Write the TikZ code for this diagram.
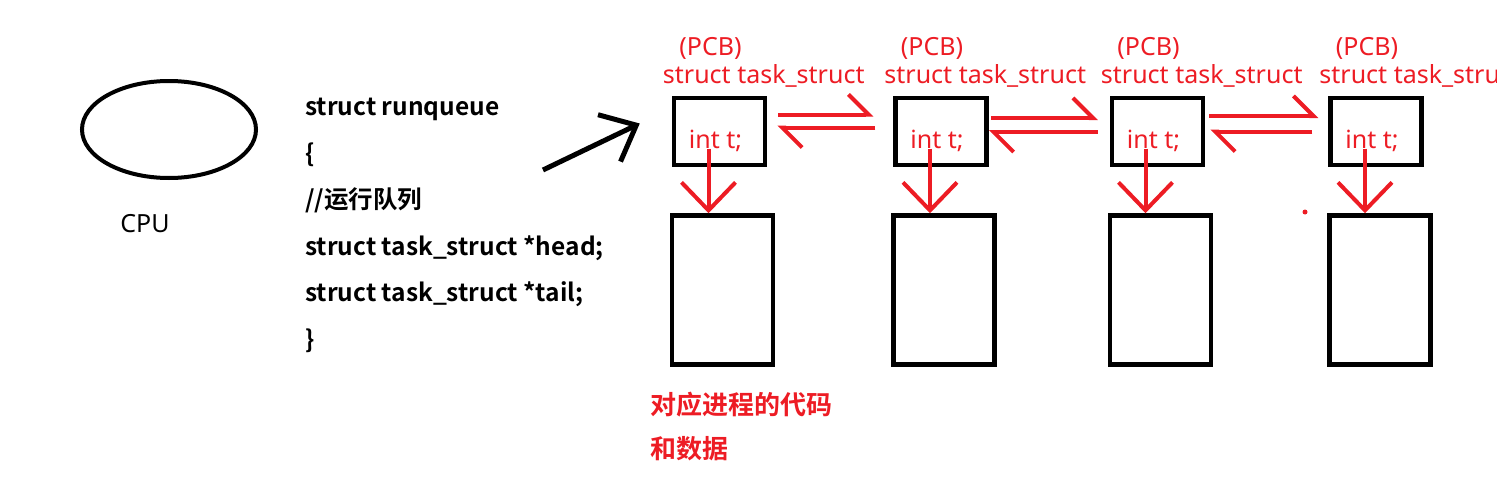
\documentclass[tikz,border=0pt]{standalone}
\usepackage{fontspec}
\setmainfont{Noto Sans}
\newfontfamily\cjk{Noto Sans CJK SC}[BoldFont={* Bold}]
\usetikzlibrary{arrows.meta, positioning, shapes.geometric}
\definecolor{paintred}{RGB}{237,28,36}

\begin{document}
\begin{tikzpicture}[x=1pt, y=-1pt,
  pcbbox/.style={rectangle, draw=black, line width=4.5pt, inner sep=0pt,
                 minimum width=91pt, minimum height=67pt},
  membox/.style={rectangle, draw=black, line width=4.5pt, inner sep=0pt,
                 minimum width=101pt, minimum height=149pt},
  redtext/.style={text=paintred, inner sep=0pt, font=\fontsize{25}{30}\selectfont},
  redarr/.style={draw=paintred, line width=4pt, -{Straight Barb[length=28pt, width=54pt]}},
  harp/.style={draw=paintred, line width=4pt, -{Straight Barb[left, length=20pt, width=40pt]}},
  node distance=46pt
]
\useasboundingbox (0,0) rectangle (1497,498);
\clip (0,0) rectangle (1497,498);

% cpu and run queue
\node[ellipse, draw=black, line width=4pt, minimum width=174pt, minimum height=97pt] (cpu) at (169,129.5) {};
\node[anchor=base, inner sep=0pt, font=\fontsize{25}{30}\selectfont] (cpulbl) at ([shift={(-24,52)}]cpu.south) {CPU};
\node[anchor=north west, align=left, inner sep=0pt, font=\fontsize{24.5}{46.5}\selectfont\cjk\bfseries] (rq) at (305,98)
  {struct runqueue\\ \{\\ //运行队列\\ struct task\_struct *head;\\ struct task\_struct *tail;\\ \}};

% task_struct boxes
\node[pcbbox] (pcb1) at (719.5,131.5) {};
\node[pcbbox, right=126pt of pcb1] (pcb2) {};
\node[pcbbox, right=121pt of pcb2] (pcb3) {};
\node[pcbbox, right=123pt of pcb3] (pcb4) {};
\node[membox, below=46pt of pcb1, xshift=3pt] (mem1) {};
\node[membox, below=46pt of pcb2, xshift=3pt] (mem2) {};
\node[membox, below=46pt of pcb3, xshift=3pt] (mem3) {};
\node[membox, below=46pt of pcb4, xshift=4pt] (mem4) {};

\node[redtext, anchor=base] (tag1) at ([shift={(-9,-40)}]pcb1.north) {(PCB)};
\node[redtext, anchor=base] (tag2) at ([shift={(-9,-40)}]pcb2.north) {(PCB)};
\node[redtext, anchor=base] (tag3) at ([shift={(-9,-40)}]pcb3.north) {(PCB)};
\node[redtext, anchor=base] (tag4) at ([shift={(-9,-40)}]pcb4.north) {(PCB)};
\node[redtext, anchor=base west] (tsk1) at ([shift={(-9,-12)}]pcb1.north west) {struct task\_struct};
\node[redtext, anchor=base west] (tsk2) at ([shift={(-9,-12)}]pcb2.north west) {struct task\_struct};
\node[redtext, anchor=base west] (tsk3) at ([shift={(-9,-12)}]pcb3.north west) {struct task\_struct};
\node[redtext, anchor=base west] (tsk4) at ([shift={(-9,-12)}]pcb4.north west) {struct task\_struct};
\node[redtext, anchor=base] (int1) at ([shift={(-4,17)}]pcb1.center) {int t;};
\node[redtext, anchor=base] (int2) at ([shift={(-4,17)}]pcb2.center) {int t;};
\node[redtext, anchor=base] (int3) at ([shift={(-4,17)}]pcb3.center) {int t;};
\node[redtext, anchor=base] (int4) at ([shift={(-4,17)}]pcb4.center) {int t;};
\node[text=paintred, inner sep=0pt, align=left, anchor=north west, font=\fontsize{26}{44}\selectfont\cjk\bfseries] (memcap)
  at ([shift={(-19,25)}]mem1.south west) {对应进程的代码\\和数据};

% links
\draw[line width=5pt, -{Straight Barb[length=30pt, width=52pt]}] ([shift={(238,72)}]rq.north west) -- ([shift={(-32,-8)}]pcb1.west);
\draw[redarr] ([xshift=-7pt]int1.base) -- ([xshift=-7pt]int1.base |- mem1.north);
\draw[redarr] ([xshift=-7pt]int2.base) -- ([xshift=-7pt]int2.base |- mem2.north);
\draw[redarr] ([xshift=-8pt]int3.base) -- ([xshift=-8pt]int3.base |- mem3.north);
\draw[redarr] ([xshift=-7pt]int4.base) -- ([xshift=-7pt]int4.base |- mem4.north);
\draw[harp] ([shift={(11,-17)}]pcb1.east) -- ([shift={(-20,-17)}]pcb2.west);
\draw[harp] ([shift={(-18,-4)}]pcb2.west) -- ([shift={(10,-4)}]pcb1.east);
\draw[harp] ([shift={(2,-13.5)}]pcb2.east) -- ([shift={(-12,-13.5)}]pcb3.west);
\draw[harp] ([shift={(-12,0.5)}]pcb3.west) -- ([shift={(0,0.5)}]pcb2.east);
\draw[harp] ([shift={(4,-15.5)}]pcb3.east) -- ([shift={(-10,-15.5)}]pcb4.west);
\draw[harp] ([shift={(-16,0)}]pcb4.west) -- ([shift={(5,0)}]pcb3.east);
\fill[paintred] (1305,212) circle (2.5);
\end{tikzpicture}
\end{document}
